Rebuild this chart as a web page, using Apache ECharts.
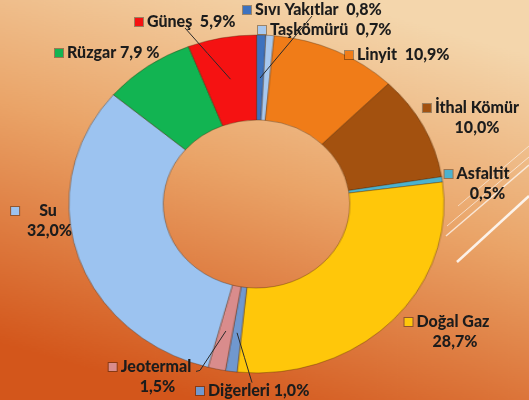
<!DOCTYPE html>
<html>
<head>
<meta charset="utf-8">
<script src="https://cdn.jsdelivr.net/npm/echarts@6/dist/echarts.min.js"></script>
<style>
  html, body { margin: 0; padding: 0; width: 529px; height: 400px; overflow: hidden; }
  #ring, #labels { position: absolute; left: 0; top: 0; width: 529px; height: 400px; }
  /* the donut in the picture is a bit wider than tall */
  #ring { transform: scaleX(1.11); transform-origin: 256.5px 0; }
</style>
</head>
<body>
<div id="ring"></div>
<div id="labels"></div>
<script>
// clockwise from 12 o'clock
const names = ['Sıvı Yakıtlar', 'Taşkömürü', 'Linyit', 'İthal Kömür', 'Asfaltit', 'Doğal Gaz',
  'Diğerleri', 'Jeotermal', 'Su', 'Rüzgar', 'Güneş'];
const values = [0.8, 0.7, 10.9, 10.0, 0.5, 28.7, 1.0, 1.5, 32.0, 7.9, 5.9];
const colors = ['#3d72bf', '#a8c8ee', '#f07c18', '#a3510f', '#4bb2cf', '#ffc70a',
  '#7098cf', '#d98c8c', '#9cc3f0', '#12b452', '#f51212'];
// text between name and percent ('\n' = second line)
const seps = ['  ', '  ', '  ', '\n', '\n', '\n', ' ', '\n', '\n', ' ', '  '];

const pct = (v, i) => v.toFixed(1).replace('.', ',') + (names[i] === 'Rüzgar' ? ' %' : '%');

const center = [256.5, 204];
const radius = [84, 169];
const sx = 1.11;

// ---- ring ----
const ring = echarts.init(document.getElementById('ring'));
ring.setOption({
  animation: false,
  backgroundColor: {
    type: 'linear', x: 0.62, y: 0, x2: 0.38, y2: 1,
    colorStops: [
      { offset: 0, color: '#f4d6ac' },
      { offset: 0.45, color: '#eaa468' },
      { offset: 1, color: '#d3561b' }
    ]
  },
  series: [{
    type: 'pie',
    center: center,
    radius: radius,
    startAngle: 90,
    clockwise: true,
    silent: true,
    label: { show: false },
    labelLine: { show: false },
    itemStyle: { borderColor: 'rgba(60,30,0,0.35)', borderWidth: 1 },
    data: values.map((v, i) => ({ name: names[i], value: v, itemStyle: { color: colors[i] } }))
  }]
});

// ---- labels ----
const rich = {
  t: { fontFamily: 'Lato', fontWeight: 900, fontSize: 16, color: '#1c1c1c', lineHeight: 20 }
};
colors.forEach((c, i) => {
  rich['s' + i] = { width: 8, height: 8, backgroundColor: c, borderColor: 'rgba(0,0,0,0.35)', borderWidth: 1 };
  rich['g' + i] = { fontFamily: 'Lato', fontWeight: 900, fontSize: 16, color: '#1c1c1c', lineHeight: 20 };
});
// x, y, align, left pad of 2nd line, gap after the square
const labelPos = [
  [243, 0, 'left', 0, 4], [258, 20, 'left', 0, 4], [345, 45, 'left', 0, 4], [471, 98, 'center', 12, 4],
  [477, 164, 'center', 21, 4], [447, 312, 'center', 16, 4], [196, 381, 'left', 0, 4], [150, 357, 'center', 15, 4],
  [34, 201, 'center', 31, 20], [55, 43, 'left', 0, 4], [135, 12, 'left', 0, 4]
];
labelPos.forEach((p, i) => {
  rich['g' + i].padding = [0, 0, 0, p[4]];
  rich['p' + i] = { fontFamily: 'Lato', fontWeight: 900, fontSize: 16, color: '#1c1c1c', lineHeight: 20, padding: [0, 0, 0, p[3]] };
});

// label line: start offset in label box, end radius inside slice
const lines = {
  'Sıvı Yakıtlar': { at: [69, 1], r: 126 },
  'Güneş': { at: [50, 1], r: 127 },
  'Jeotermal': { at: [1.05, 0.4], r: 130, hook: true },
  'Diğerleri': { at: [56, 0.1], r: 130 }
};

function midPoint(i, r) {
  let before = 0;
  for (let k = 0; k < i; k++) before += values[k];
  const total = values.reduce((a, b) => a + b, 0);
  const ang = (before + values[i] / 2) / total * Math.PI * 2;
  return [center[0] + Math.sin(ang) * r * sx, center[1] - Math.cos(ang) * r];
}

const lab = echarts.init(document.getElementById('labels'));
lab.setOption({
  animation: false,
  graphic: [
    { type: 'line', shape: { x1: 457, y1: 262, x2: 529, y2: 196 }, style: { stroke: 'rgba(255,255,255,0.85)', lineWidth: 2.5 } },
    { type: 'line', shape: { x1: 446, y1: 236, x2: 529, y2: 165 }, style: { stroke: 'rgba(255,255,255,0.7)', lineWidth: 1.5 } },
    { type: 'line', shape: { x1: 447, y1: 226, x2: 529, y2: 157 }, style: { stroke: 'rgba(255,255,255,0.6)', lineWidth: 1 } },
    { type: 'line', shape: { x1: 458, y1: 206, x2: 529, y2: 146 }, style: { stroke: 'rgba(255,255,255,0.55)', lineWidth: 1 } }
  ],
  series: [{
    type: 'pie',
    center: center,
    radius: radius,
    startAngle: 90,
    clockwise: true,
    silent: true,
    itemStyle: { color: 'rgba(0,0,0,0)' },
    label: {
      show: true,
      position: 'outside',
      width: 180,
      overflow: 'none',
      rich: rich,
      formatter: p => {
        const i = p.dataIndex;
        const sep = seps[i];
        if (sep === '\n') return '{s' + i + '|}{g' + i + '|' + names[i] + '}\n{p' + i + '|' + pct(values[i], i) + '}';
        return '{s' + i + '|}{g' + i + '|' + names[i] + sep + pct(values[i], i) + '}';
      }
    },
    labelLine: { show: true, lineStyle: { color: '#2a2a2a', width: 1 } },
    labelLayout: p => {
      const i = p.dataIndex;
      const pos = labelPos[i];
      const out = { x: pos[0], y: pos[1], align: pos[2], verticalAlign: 'top' };
      const ln = lines[names[i]];
      if (ln) {
        const w = p.labelRect.width, h = p.labelRect.height;
        const left = pos[2] === 'center' ? pos[0] - w / 2 : pos[0];
        const sxp = ln.at[0] > 2 ? left + ln.at[0] : left + w * ln.at[0];
        const syp = pos[1] + h * ln.at[1];
        const end = midPoint(i, ln.r);
        const mid = ln.hook ? [sxp + 4, syp - 1] : [(sxp + end[0]) / 2, (syp + end[1]) / 2];
        out.labelLinePoints = [[sxp, syp], mid, end];
      }
      return out;
    },
    data: values.map((v, i) => ({
      name: names[i], value: v,
      labelLine: { show: !!lines[names[i]] }
    }))
  }]
});
</script>
</body>
</html>
